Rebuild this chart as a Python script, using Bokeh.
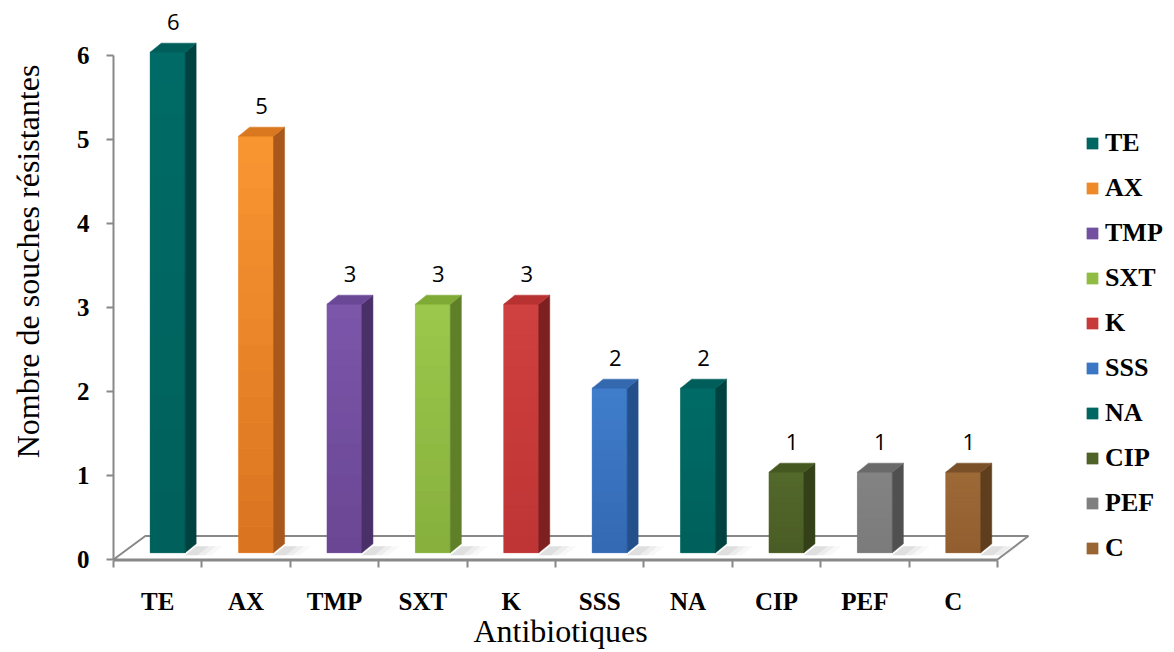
import math
from bokeh.plotting import figure
from bokeh.models import Range1d, FixedTicker, Legend, LegendItem, ColumnDataSource
from bokeh.core.properties import value
from bokeh.embed import file_html
from bokeh.resources import INLINE

categories = ["TE", "AX", "TMP", "SXT", "K", "SSS", "NA", "CIP", "PEF", "C"]
values = [6, 5, 3, 3, 3, 2, 2, 1, 1, 1]
y_ticks = [0, 1, 2, 3, 4, 5, 6]
y_title = "Nombre de souches résistantes"
x_title = "Antibiotiques"
front_colors = ["#006661", "#EE8A2A", "#7450A0", "#90BC44", "#C83A3A",
                "#3A76C4", "#006661", "#4F6228", "#808080", "#996633"]
front_light = ["#006B66", "#FA9632", "#7C56AA", "#9CC84C", "#D04040",
               "#3F7ECC", "#006B66", "#53682B", "#838383", "#9D6937"]
front_dark = ["#00605B", "#DA7320", "#6A4694", "#86B03C", "#BE3434",
              "#3468B2", "#00605B", "#4A5C25", "#7B7B7B", "#925E2F"]
side_colors = ["#00423F", "#A8581A", "#4A3068", "#5F8028", "#7E2020",
               "#23508A", "#00423F", "#334018", "#505050", "#5F3E1E"]
top_colors = ["#005E5A", "#D9781F", "#6A4896", "#7FAA35", "#B83232",
              "#3469B0", "#005E5A", "#465822", "#6A6A6A", "#7A5028"]

W, H = 1166, 652
PX_X, PX_Y = 88.4, 84.0
X0_PX, Y0_PX = 113, 559          # canvas position of the data origin
x_start = -X0_PX / PX_X
y_start = -(H - Y0_PX) / PX_Y

p = figure(width=W, height=H, output_backend="svg", toolbar_location=None,
           x_range=Range1d(x_start, x_start + W / PX_X),
           y_range=Range1d(y_start, y_start + H / PX_Y),
           min_border=0, min_border_left=0, min_border_right=0,
           min_border_top=0, min_border_bottom=0)
p.outline_line_color = None
p.grid.visible = False
p.background_fill_color = "white"

AX_COL = "#888888"
n = len(categories)


def mix(c1, c2, t):
    a = [int(c1[k:k + 2], 16) for k in (1, 3, 5)]
    b = [int(c2[k:k + 2], 16) for k in (1, 3, 5)]
    return "#%02x%02x%02x" % tuple(round(x + (y - x) * t) for x, y in zip(a, b))


# floor
fd_x, fd_y = 0.36, 0.28
p.patch([0, n, n + fd_x - 0.01, fd_x, 0], [0, 0, fd_y, fd_y, 0],
        fill_color="white", line_color=AX_COL, line_width=2)

# bars geometry
xl = [i + 0.415 for i in range(n)]
xr = [i + 0.81 for i in range(n)]
yb = [0.08] * n
yt = [v + 0.04 for v in values]
dx, dy = 0.125, 0.107

# soft floor shadows
for k, a in enumerate([0.10, 0.18, 0.28]):
    ext = 0.30 - 0.08 * k
    p.patches([[r, r + ext, r + ext + dx, r + dx] for r in xr],
              [[0.05, 0.05, 0.05 + dy, 0.05 + dy] for _ in xr],
              fill_color="#bbbbbb", fill_alpha=a, line_color=None)

src = ColumnDataSource(dict(left=xl, right=xr, bottom=yb, top=yt, color=front_colors,
                            label=categories))
bars = p.quad(left="left", right="right", bottom="bottom", top="top", source=src,
              fill_color="color", line_color="color", line_width=0.5)

# vertical gradient on the front faces
NS = 16
gl, gr, gb, gt, gc = [], [], [], [], []
for i in range(n):
    h = (yt[i] - yb[i]) / NS
    for s in range(NS):
        gl.append(xl[i]); gr.append(xr[i])
        gb.append(yb[i] + s * h); gt.append(yb[i] + (s + 1) * h + 0.002)
        gc.append(mix(front_dark[i], front_light[i], (s + 0.5) / NS))
p.quad(left=gl, right=gr, bottom=gb, top=gt, fill_color=gc, line_color=None)

p.patches([[r, r + dx, r + dx, r] for r in xr],
          [[b, b + dy, t + dy, t] for b, t in zip(yb, yt)],
          fill_color=side_colors, line_color=side_colors, line_width=0.5)
p.patches([[l, r, r + dx, l + dx] for l, r in zip(xl, xr)],
          [[t, t, t + dy, t + dy] for t in yt],
          fill_color=top_colors, line_color=top_colors, line_width=0.5)

# data labels
p.text(x=[(l + r + dx) / 2 for l, r in zip(xl, xr)], y=[v + 0.40 for v in values],
       text=[str(v) for v in values], text_align="center", text_baseline="middle",
       text_font=value("Open Sans"), text_font_size="22px", text_color="black")

# axes (drawn at fixed data locations inside the full-canvas frame)
ya = p.yaxis[0]
ya.fixed_location = 0
ya.ticker = FixedTicker(ticks=y_ticks)
ya.bounds = (0, 6)
ya.axis_line_color = AX_COL
ya.axis_line_width = 2
ya.major_tick_line_color = AX_COL
ya.major_tick_line_width = 2
ya.major_tick_out = 7
ya.major_tick_in = 0
ya.minor_tick_line_color = None
ya.major_label_standoff = 17
ya.major_label_text_font = "Liberation Serif"
ya.major_label_text_font_style = "bold"
ya.major_label_text_font_size = "25px"
ya.major_label_text_color = "black"

xa = p.xaxis[0]
xa.fixed_location = -1.0 / PX_Y
xa.ticker = FixedTicker(ticks=[i + 0.5 for i in range(n)], minor_ticks=list(range(n + 1)))
xa.major_label_overrides = {i + 0.5: c for i, c in enumerate(categories)}
xa.bounds = (0, n)
xa.axis_line_color = AX_COL
xa.axis_line_width = 2
xa.major_tick_line_color = None
xa.major_tick_out = 0
xa.major_tick_in = 0
xa.minor_tick_line_color = AX_COL
xa.minor_tick_line_width = 2
xa.minor_tick_out = 7
xa.minor_tick_in = 0
xa.major_label_standoff = 20
xa.major_label_text_font = "Liberation Serif"
xa.major_label_text_font_style = "bold"
xa.major_label_text_font_size = "25px"
xa.major_label_text_color = "black"

# axis titles
p.text(x=[(27 - X0_PX) / PX_X], y=[(Y0_PX - 261) / PX_Y], text=[y_title], angle=math.pi / 2,
       text_align="center", text_baseline="middle", text_font=value("Liberation Serif"),
       text_font_size="32px", text_color="black")
p.text(x=[(560 - X0_PX) / PX_X], y=[(Y0_PX - 630) / PX_Y], text=[x_title],
       text_align="center", text_baseline="middle", text_font=value("Liberation Serif"),
       text_font_size="32px", text_color="black")

# legend
items = [LegendItem(label=c, renderers=[bars], index=i) for i, c in enumerate(categories)]
legend = Legend(items=items, location=(1085, 89), padding=0, margin=0,
                border_line_color=None, background_fill_alpha=0,
                glyph_width=14, glyph_height=14, label_standoff=6, spacing=15,
                label_text_font="Liberation Serif", label_text_font_style="bold",
                label_text_font_size="26px", label_text_color="black")
p.add_layout(legend)

open("out.html", "w").write(file_html(p, INLINE))
